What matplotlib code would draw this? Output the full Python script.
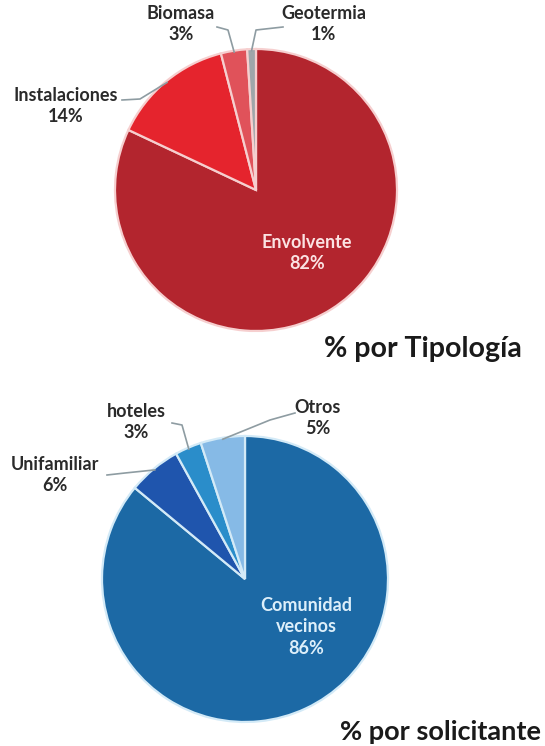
import numpy as np
import matplotlib
matplotlib.use("Agg")
import matplotlib.pyplot as plt

plt.rcParams['font.family'] = ['Lato', 'DejaVu Sans']

# datos: % por tipologia
tipo_labels = ["Envolvente", "Instalaciones", "Biomasa", "Geotermia"]
tipo_values = [82, 14, 3, 1]
tipo_colors = ["#B3252E", "#E5242D", "#E0525A", "#9FA6AA"]

# datos: % por solicitante
sol_labels = ["Comunidad\nvecinos", "Unifamiliar", "hoteles", "Otros"]
sol_values = [86, 6, 3, 5]
sol_colors = ["#1C69A5", "#1F55AD", "#2A8DCA", "#86BAE6"]

W, H = 545, 746
fig = plt.figure(figsize=(W / 100, H / 100), dpi=100)
ax = fig.add_axes([0, 0, 1, 1])
ax.set_xlim(0, W)
ax.set_ylim(0, H)
ax.set_aspect("equal")
ax.axis("off")

TXT = "#2A2A2A"
LINE = "#8E9CA2"
FS = 13


def draw_pie(values, colors, center, radius, edge):
    wedges, _ = ax.pie(values, colors=colors, startangle=90, counterclock=False,
                       center=center, radius=radius, frame=True,
                       wedgeprops=dict(edgecolor=edge, linewidth=1.6))
    return wedges


def edge_point(w, center, radius, f=0.99):
    a = np.deg2rad((w.theta1 + w.theta2) / 2)
    return center[0] + radius * f * np.cos(a), center[1] + radius * f * np.sin(a)


def pix(x, y):
    return x, H - y


# ---- pie superior ----
c1 = pix(256, 190)
r1 = 141
w1 = draw_pie(tipo_values, tipo_colors, c1, r1, "#F6CFCF")

ax.text(*pix(307, 253), "%s\n%d%%" % (tipo_labels[0], tipo_values[0]), ha="center", va="center",
        fontsize=FS, fontweight="bold", color="#FBE3E3", linespacing=1.3)

lab_pos = {1: (66, 106), 2: (181, 24), 3: (324, 24)}
line_start = {1: (122, 100), 2: (217, 27), 3: (283, 27)}
line_mid = {1: (140, 99), 2: (228, 30), 3: (256, 30)}
for i, p in lab_pos.items():
    ax.text(*pix(*p), "%s\n%d%%" % (tipo_labels[i], tipo_values[i]), ha="center", va="center",
            fontsize=FS, fontweight="bold", color=TXT, linespacing=1.3)
    ex, ey = edge_point(w1[i], c1, r1)
    xs = [line_start[i][0], line_mid[i][0]]
    ys = [H - line_start[i][1], H - line_mid[i][1]]
    ax.plot(xs + [ex], ys + [ey], color=LINE, lw=1.2)

ax.text(*pix(423, 349), "% por Tipología", ha="center", va="center",
        fontsize=20.5, fontweight="bold", color="#1A1A1A")

# ---- pie inferior ----
c2 = pix(245, 579)
r2 = 143
w2 = draw_pie(sol_values, sol_colors, c2, r2, "#D3EAF7")

ax.text(*pix(306, 627), "%s\n%d%%" % (sol_labels[0], sol_values[0]), ha="center", va="center",
        fontsize=FS, fontweight="bold", color="#DDEFFA", linespacing=1.3)

lab_pos2 = {1: (55, 475), 2: (136, 422), 3: (318, 418)}
line_start2 = {1: (107, 475), 2: (172, 423), 3: (295, 413)}
line_mid2 = {1: (125, 473), 2: (182, 425), 3: (270, 420)}
for i, p in lab_pos2.items():
    ax.text(*pix(*p), "%s\n%d%%" % (sol_labels[i], sol_values[i]), ha="center", va="center",
            fontsize=FS, fontweight="bold", color=TXT, linespacing=1.3)
    ex, ey = edge_point(w2[i], c2, r2)
    xs = [line_start2[i][0], line_mid2[i][0]]
    ys = [H - line_start2[i][1], H - line_mid2[i][1]]
    ax.plot(xs + [ex], ys + [ey], color=LINE, lw=1.2)

# en el original queda cortado por el borde; aqui se ajusta para que quepa
ax.text(*pix(541, 732), "% por solicitante", ha="right", va="center",
        fontsize=19.5, fontweight="bold", color="#1A1A1A")

ax.set_xlim(0, W)
ax.set_ylim(0, H)
fig.savefig("out.png", dpi=100)
